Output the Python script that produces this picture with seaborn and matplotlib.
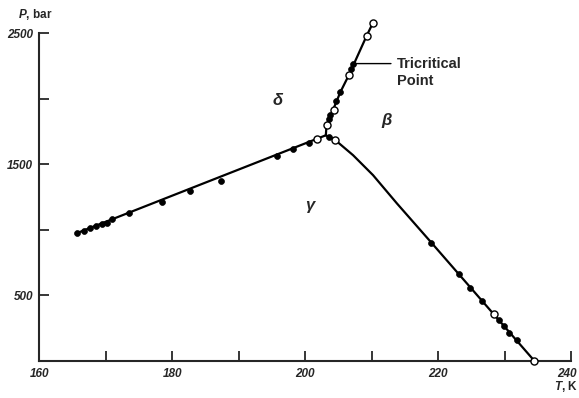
import matplotlib
matplotlib.use("Agg")
import matplotlib.pyplot as plt
import matplotlib.transforms as mtransforms
import seaborn as sns
import pandas as pd

# ---- phase boundary lines (T in K, P in bar) ----
gd_line_T = [165.6, 203.1]
gd_line_P = [975, 1722]
gb_line_T = [203.1, 204.55, 207.2, 210.2, 213.8, 219.0, 234.5]
gb_line_P = [1722, 1684, 1570, 1418, 1202, 902, 0]
db_line_T = [203.1, 203.2, 204.2, 205.3, 206.6, 209.25, 210.15]
db_line_P = [1722, 1799, 1918, 2053, 2185, 2482, 2576]

# ---- measured points ----
filled_T = [165.7, 166.7, 167.6, 168.5, 169.4, 170.1, 170.9, 173.4, 178.4, 182.6,
            187.3, 195.7, 198.2, 200.6,
            203.6,
            219.0, 223.1, 224.8, 226.6, 229.2, 229.9, 230.7, 231.8,
            203.6, 203.8, 204.7, 205.3, 206.85, 207.15]
filled_P = [973, 993, 1014, 1032, 1046, 1050, 1080, 1126, 1214, 1296,
            1376, 1563, 1614, 1664,
            1712,
            902, 661, 554, 460, 313, 267, 216, 158,
            1850, 1875, 1984, 2053, 2231, 2269]
open_T = [201.75, 204.55, 228.4, 234.5, 203.2, 204.3, 206.6, 209.25, 210.15]
open_P = [1690, 1684, 356, 0, 1799, 1918, 2185, 2482, 2576]

tricritical = (207.15, 2269)

x_major = [160, 180, 200, 220, 240]
x_minor = [170, 190, 210, 230]
y_ticks = [500, 1000, 1500, 2000, 2500]
y_labels = ["500", "", "1500", "", "2500"]

sns.set_style("ticks")
plt.rcParams["font.family"] = ["Liberation Sans", "DejaVu Sans"]
plt.rcParams["mathtext.fontset"] = "custom"
plt.rcParams["mathtext.it"] = "Liberation Sans:italic:bold"
plt.rcParams["mathtext.rm"] = "Liberation Sans:bold"

fig = plt.figure(figsize=(5.79, 3.98), dpi=100)
ax = fig.add_axes([0.0682, 0.0930, 0.9180, 0.8233])

lines = pd.concat([
    pd.DataFrame({"T": gd_line_T, "P": gd_line_P, "b": "gd"}),
    pd.DataFrame({"T": gb_line_T, "P": gb_line_P, "b": "gb"}),
    pd.DataFrame({"T": db_line_T, "P": db_line_P, "b": "db"}),
])
for name, g in lines.groupby("b"):
    sns.lineplot(data=g, x="T", y="P", sort=False, estimator=None, color="black",
                 lw=1.6, ax=ax, clip_on=False, zorder=2)

fdf = pd.DataFrame({"T": filled_T, "P": filled_P})
odf = pd.DataFrame({"T": open_T, "P": open_P})
sns.scatterplot(data=fdf, x="T", y="P", s=18, color="black", edgecolor="black",
                linewidth=0.5, ax=ax, clip_on=False, zorder=3)
sns.scatterplot(data=odf, x="T", y="P", s=26, color="white", edgecolor="black",
                linewidth=1.0, ax=ax, clip_on=False, zorder=4)

ax.set_xlim(160, 240)
ax.set_ylim(0, 2500)
ax.set_xlabel("")
ax.set_ylabel("")
sns.despine(ax=ax)
for s in ["left", "bottom"]:
    ax.spines[s].set_linewidth(1.5)

ax.set_xticks(x_major)
ax.set_xticks(x_minor, minor=True)
ax.set_xticklabels([str(v) for v in x_major])
ax.set_yticks(y_ticks)
ax.set_yticklabels(y_labels)
ax.tick_params(axis="both", which="both", direction="in", width=1.3, length=7,
               labelsize=8.5)
ax.tick_params(axis="x", pad=5)
ax.tick_params(axis="y", pad=4.5)
for lab in ax.get_xticklabels() + ax.get_yticklabels():
    lab.set_fontstyle("italic")
    lab.set_fontweight("bold")
# keep the last x label inside the figure
last = ax.get_xticklabels()[-1]
last.set_transform(last.get_transform() +
                   mtransforms.ScaledTranslation(-4 / 100, 0, fig.dpi_scale_trans))

# phase labels
for t, p, s in [(195.9, 1984, "δ"), (212.3, 1837, "β"), (200.7, 1189, "γ")]:
    ax.text(t, p, s, fontsize=12, fontstyle="italic", fontweight="bold",
            ha="center", va="center")

# tricritical annotation
ax.annotate("", xy=(tricritical[0] + 0.1, tricritical[1]), xytext=(212.9, tricritical[1]),
            arrowprops=dict(arrowstyle="-", lw=1.0, color="black",
                            shrinkA=0, shrinkB=0))
ax.text(213.75, 2322, "Tricritical\nPoint", fontsize=10.5, fontweight="bold",
        ha="left", va="top", linespacing=1.3)

fig.text(35 / 579, 1 - 15 / 398, r"$\mathit{P}$, bar", fontsize=8.5, fontweight="bold",
         ha="center", va="center")
fig.text(566 / 579, 1 - 386 / 398, r"$\mathit{T}$, K", fontsize=8.5, fontweight="bold",
         ha="center", va="center")

fig.savefig("out.png", dpi=100)
